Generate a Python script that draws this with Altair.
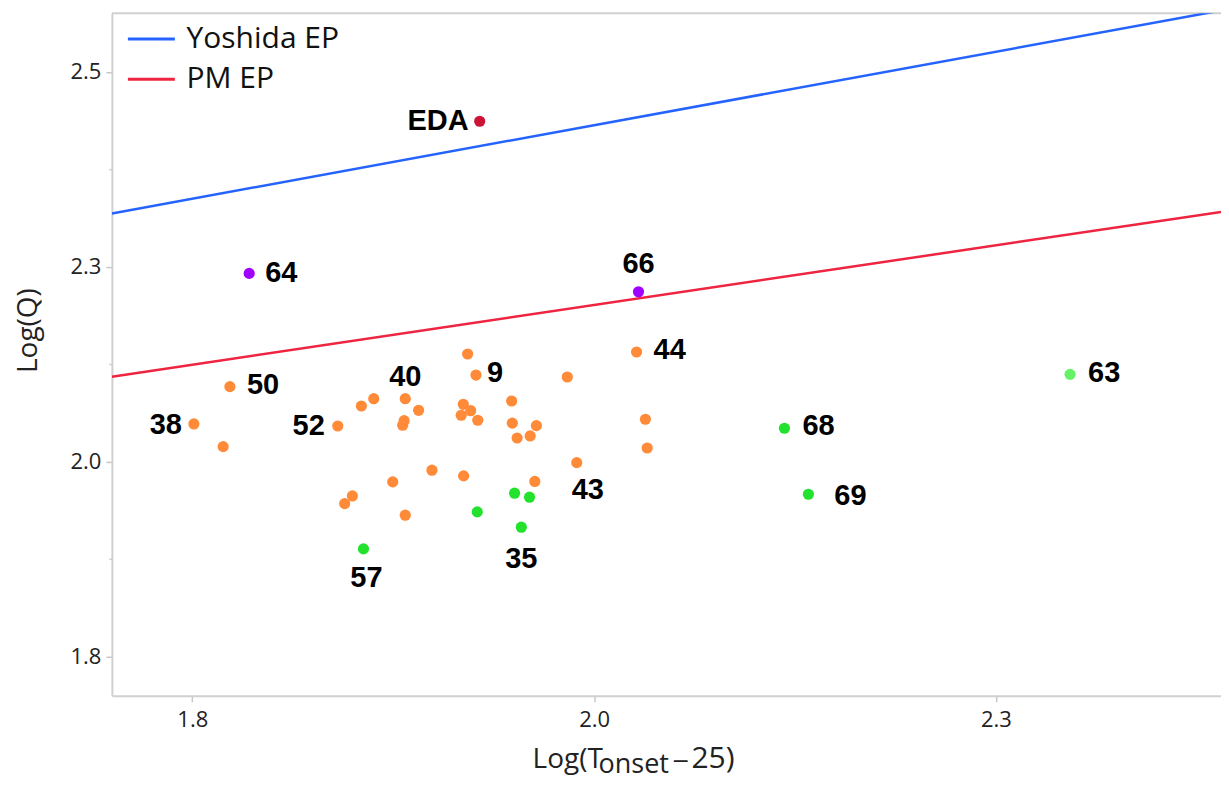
import altair as alt
import pandas as pd

# ---------------- data ----------------
orange_x = [1.8010, 1.8234, 1.8192, 1.8905, 1.9052, 1.9129, 1.9325, 1.9408, 1.9318, 1.9309,
            1.9713, 1.9765, 1.9686, 1.9732, 1.9673, 1.9776, 1.9987, 1.9991, 2.0141, 2.0021,
            2.0102, 1.9491, 1.9688, 1.9247, 1.8996, 1.8948, 1.9325, 2.0131, 2.0333, 2.0392,
            2.0764, 2.0819, 2.0830]
orange_y = [2.0985, 2.1463, 2.0694, 2.0959, 2.1215, 2.1309, 2.1309, 2.1160, 2.1027, 2.0968,
            2.1882, 2.1612, 2.1237, 2.1155, 2.1096, 2.1032, 2.1279, 2.0995, 2.0964, 2.0805,
            2.0831, 2.0392, 2.0319, 2.0242, 2.0062, 1.9964, 1.9815, 2.0248, 2.1587, 2.0489,
            2.1907, 2.1045, 2.0677]
orange_labels = ["38", "50", "", "52", "", "", "40", "", "", "",
                 "", "9", "", "", "", "", "", "", "", "",
                 "", "", "", "", "", "", "", "", "", "43",
                 "44", "", ""]

green_x = [2.0005, 2.0098, 1.9773, 2.0047, 1.9065, 2.1684, 2.1833]
green_y = [2.0097, 2.0046, 1.9857, 1.9661, 1.9383, 2.0930, 2.0084]
green_labels = ["", "", "", "35", "57", "68", "69"]

light_x = [2.3461]
light_y = [2.1621]
light_labels = ["63"]

purple_x = [1.8354, 2.0776]
purple_y = [2.2915, 2.2680]
purple_labels = ["64", "66"]

eda_x = [1.9788]
eda_y = [2.4866]
eda_labels = ["EDA"]

series_names = ["Yoshida EP", "PM EP"]
series_colors = ["#2563FF", "#EE2440"]
yoshida_x = [1.75, 2.44]
yoshida_y = [2.3684, 2.6286]
pm_x = [1.75, 2.44]
pm_y = [2.1591, 2.3704]

group_names = ["orange", "green", "lightgreen", "purple", "eda"]
group_colors = ["#FF8A38", "#22E22E", "#66F266", "#A000FF", "#CC1436"]

x_tick_values = [1.8, 2.05, 2.3]
x_tick_labels = ["1.8", "2.0", "2.3"]
y_tick_values = [1.8, 1.925, 2.05, 2.175, 2.3, 2.425, 2.55]
y_tick_labels = ["1.8", "", "2.0", "", "2.3", "", "2.5"]

x_title_parts = ["Log(T", "onset", "\u2212", "25)"]

# ---------------- tables ----------------
rows = []
for gx, gy, gl, g in [(orange_x, orange_y, orange_labels, "orange"),
                      (green_x, green_y, green_labels, "green"),
                      (light_x, light_y, light_labels, "lightgreen"),
                      (purple_x, purple_y, purple_labels, "purple"),
                      (eda_x, eda_y, eda_labels, "eda")]:
    for a, b, l in zip(gx, gy, gl):
        rows.append({"x": a, "y": b, "group": g, "label": l})
pts = pd.DataFrame(rows)

lines = pd.DataFrame(
    [{"x": a, "y": b, "series": "Yoshida EP"} for a, b in zip(yoshida_x, yoshida_y)]
    + [{"x": a, "y": b, "series": "PM EP"} for a, b in zip(pm_x, pm_y)]
)

W, H = 1110, 683
XDOM = [1.75, 2.44]
YDOM = [1.75, 2.625]


def label_expr(values, labels):
    expr = "''"
    for v, l in zip(values, labels):
        expr = f"abs(datum.value - {v}) < 1e-6 ? '{l}' : ({expr})"
    return expr


major_test = " || ".join(
    f"abs(datum.value - {v}) < 1e-6" for v, l in zip(y_tick_values, y_tick_labels) if l
)

xenc = alt.X("x:Q", scale=alt.Scale(domain=XDOM, nice=False, zero=False),
             axis=alt.Axis(values=x_tick_values, labelExpr=label_expr(x_tick_values, x_tick_labels),
                           title=None, tickSize=6, labelPadding=8))
yenc = alt.Y("y:Q", scale=alt.Scale(domain=YDOM, nice=False, zero=False),
             axis=alt.Axis(values=y_tick_values, labelExpr=label_expr(y_tick_values, y_tick_labels),
                           title="Log(Q)", titleX=-83, titleY=317, titleAngle=-90,
                           titleAlign="center", titleBaseline="middle",
                           tickSize={"condition": {"test": major_test, "value": 6}, "value": 3},
                           labelPadding=5))

line_layer = alt.Chart(lines).mark_line(clip=True, strokeWidth=2.5).encode(
    x=xenc, y=yenc,
    color=alt.Color("series:N", scale=alt.Scale(domain=series_names, range=series_colors), legend=None),
)

point_layer = alt.Chart(pts).mark_circle(size=125, opacity=1).encode(
    x=xenc, y=yenc,
    color=alt.Color("group:N", scale=alt.Scale(domain=group_names, range=group_colors), legend=None),
)

# label placement (style): dx, dy, align
label_style = {
    "EDA": (-11, 0, "right"), "64": (16, 0, "left"), "66": (0, -28, "center"),
    "63": (18, -1, "left"), "68": (18, -2, "left"), "69": (26, 2, "left"),
    "44": (17, -2, "left"), "9": (11, -2, "left"), "40": (0, -22, "center"),
    "50": (17, -2, "left"), "38": (-12, 1, "right"), "52": (-13, 0, "right"),
    "57": (3, 29, "center"), "35": (0, 32, "center"), "43": (11, 27, "center"),
}
label_layers = []
for name, (dx, dy, al) in label_style.items():
    label_layers.append(
        alt.Chart(pts).transform_filter(alt.datum.label == name).mark_text(
            dx=dx, dy=dy, align=al, baseline="middle", font="Liberation Sans",
            fontWeight="bold", fontSize=29, color="#000000"
        ).encode(x=xenc, y=yenc, text="label:N")
    )

# top frame line
frame_top = alt.Chart(pd.DataFrame({"a": [0]})).mark_rule(color="#d0d0d0", strokeWidth=2).encode(
    x=alt.value(0), x2=alt.value(W), y=alt.value(0)
)

# manual legend
legend_layers = []
for i, (nm, col) in enumerate(zip(series_names, series_colors)):
    yy = 25.7 + 40.3 * i
    legend_layers.append(
        alt.Chart(pd.DataFrame({"name": [nm]})).mark_rule(color=col, strokeWidth=3).encode(
            x=alt.value(16), x2=alt.value(63), y=alt.value(yy)
        )
    )
    legend_layers.append(
        alt.Chart(pd.DataFrame({"name": [nm]})).mark_text(
            align="left", baseline="middle", font="Open Sans", fontSize=30, color="#111111"
        ).encode(x=alt.value(74.7), y=alt.value(yy), text="name:N")
    )

# x axis title with subscript (position, baseline, font, size)
title_pos = [(421, 755, "Open Sans", 28), (487, 760, "Open Sans", 27),
             (560, 755, "DejaVu Sans", 22), (580, 755, "Open Sans", 30)]
title_layers = []
for part, (tx, ty, fnt, fs) in zip(x_title_parts, title_pos):
    title_layers.append(
        alt.Chart(pd.DataFrame({"t": [part]})).mark_text(
            align="left", baseline="alphabetic", font=fnt, fontSize=fs, color="#222222"
        ).encode(x=alt.value(tx), y=alt.value(ty), text="t:N")
    )

chart = alt.layer(
    frame_top, line_layer, point_layer, *label_layers, *legend_layers, *title_layers
).resolve_scale(color="independent").properties(
    width=W, height=H,
    padding={"left": 104, "top": 5, "right": 0, "bottom": 84},
    autosize=alt.AutoSizeParams(type="none"),
).configure_view(stroke=None).configure_axis(
    grid=False,
    domainColor="#d0d0d0", domainWidth=2,
    tickColor="#c8c8c8", tickWidth=1.5,
    labelFont="Open Sans", labelFontSize=22, labelColor="#222222",
    titleFont="Open Sans", titleFontSize=28, titleFontWeight="normal", titleColor="#222222",
)

chart.save("out.html", embed_options={"renderer": "svg", "actions": False})
